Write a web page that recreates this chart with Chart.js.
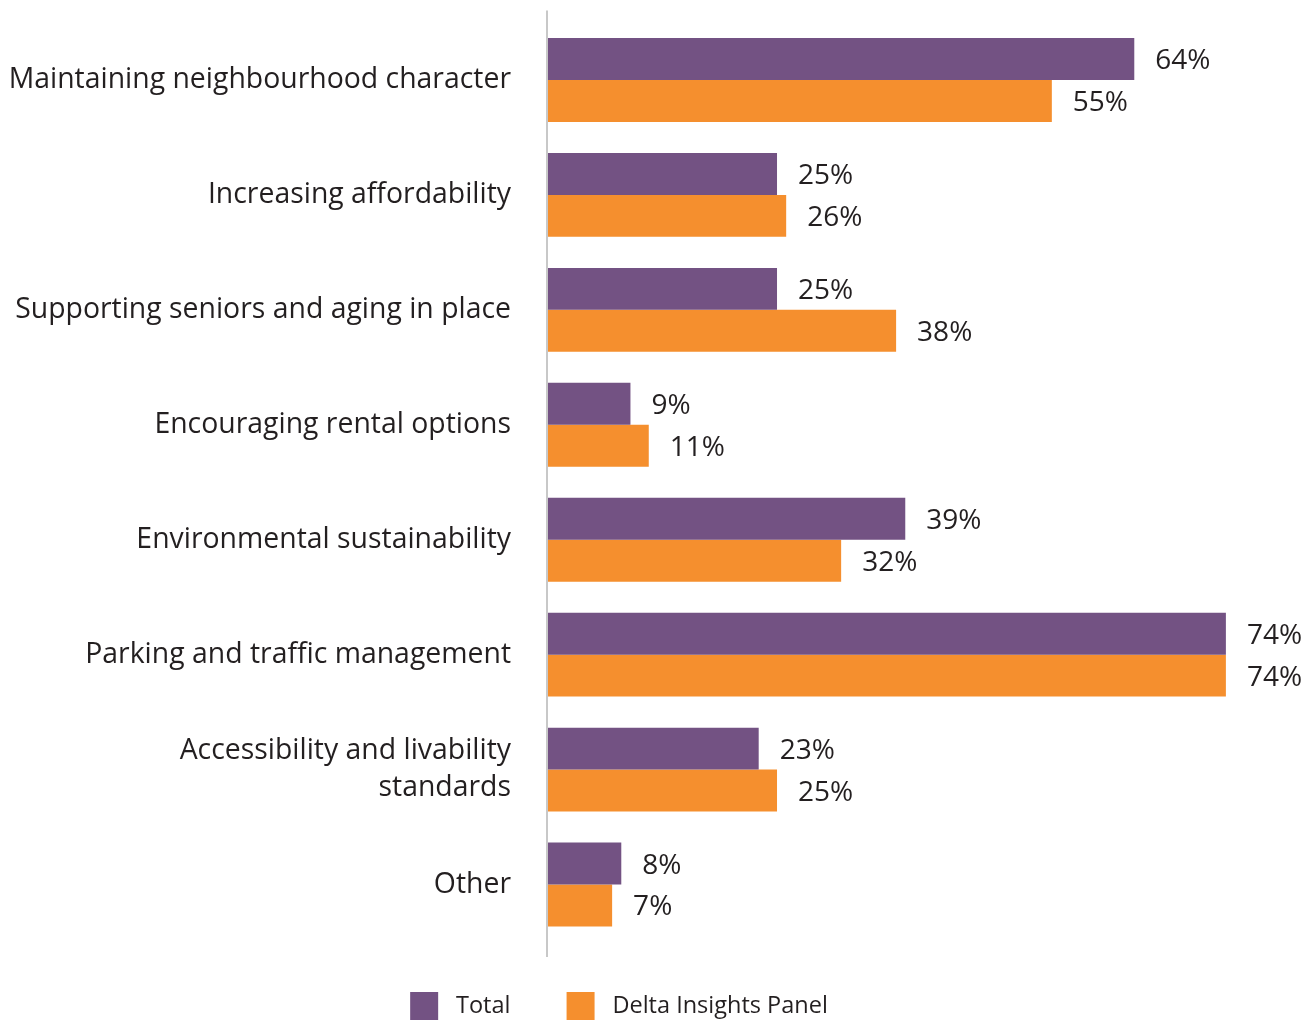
<!DOCTYPE html>
<html><head><meta charset="utf-8">
<script src="https://cdn.jsdelivr.net/npm/chart.js@4/dist/chart.umd.min.js"></script>
<style>html,body{margin:0;padding:0;background:#fff;overflow:hidden}#wrap{width:1312px;height:1020px;position:relative}</style>
</head><body><div id="wrap"><canvas id="c"></canvas></div>
<script>
const categories = [
  "Maintaining neighbourhood character",
  "Increasing affordability",
  "Supporting seniors and aging in place",
  "Encouraging rental options",
  "Environmental sustainability",
  "Parking and traffic management",
  ["Accessibility and livability", "standards"],
  "Other"
];
const seriesNames = ["Total", "Delta Insights Panel"];
const totalValues = [64, 25, 25, 9, 39, 74, 23, 8];
const panelValues = [55, 26, 38, 11, 32, 74, 25, 7];
const colors = ["#735283", "#F58F2E"];
const FONT = "'Open Sans', 'Noto Sans', sans-serif";
const TEXT = "#231f20";

const valueLabels = {
  id: 'valueLabels',
  afterDatasetsDraw(chart) {
    const ctx = chart.ctx;
    ctx.save();
    ctx.font = "28px " + FONT;
    ctx.fillStyle = TEXT;
    ctx.textAlign = 'left';
    ctx.textBaseline = 'middle';
    chart.data.datasets.forEach((ds, di) => {
      chart.getDatasetMeta(di).data.forEach((bar, i) => {
        ctx.fillText(ds.data[i] + '%', bar.x + 21, bar.y + 2);
      });
    });
    ctx.restore();
  }
};
const axisLine = {
  id: 'axisLine',
  beforeDatasetsDraw(chart) {
    const {ctx, chartArea} = chart;
    const x = chart.scales.x.getPixelForValue(0);
    ctx.save();
    ctx.strokeStyle = '#c8c8c8';
    ctx.lineWidth = 2;
    ctx.beginPath();
    ctx.moveTo(x - 1, chartArea.top - 12);
    ctx.lineTo(x - 1, chartArea.bottom + 15);
    ctx.stroke();
    ctx.restore();
  }
};

new Chart(document.getElementById('c'), {
  type: 'bar',
  data: {
    labels: categories,
    datasets: [
      {label: seriesNames[0] + ' ', data: totalValues, backgroundColor: colors[0]},
      {label: seriesNames[1], data: panelValues, backgroundColor: colors[1]}
    ]
  },
  options: {
    indexAxis: 'y',
    responsive: true,
    maintainAspectRatio: false,
    animation: false,
    datasets: {bar: {categoryPercentage: 0.73, barPercentage: 1.0}},
    layout: {padding: {top: 22.5, bottom: -10, left: -74, right: 0}},
    scales: {
      x: {display: false, min: 0, max: 83.4},
      y: {
        grid: {display: true, color: 'rgba(0,0,0,0)', drawOnChartArea: false, drawTicks: true, tickLength: 37},
        border: {display: false},
        ticks: {padding: 0, color: TEXT, font: {family: FONT, size: 28.4, lineHeight: 1.3}},
        afterFit(scale) { scale.width = 622; }
      }
    },
    plugins: {
      tooltip: {enabled: false},
      legend: {
        position: 'bottom',
        labels: {
          boxWidth: 28, boxHeight: 28, padding: 50, color: TEXT,
          font: {family: FONT, size: 23.5},
          generateLabels(chart) {
            const items = Chart.defaults.plugins.legend.labels.generateLabels(chart);
            items.forEach(it => { it.text = ' ' + it.text; it.lineWidth = 0; });
            return items;
          }
        }
      }
    }
  },
  plugins: [valueLabels, axisLine]
});
</script></body></html>
